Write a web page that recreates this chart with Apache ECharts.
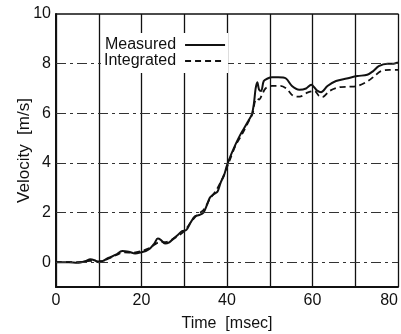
<!DOCTYPE html>
<html>
<head>
<meta charset="utf-8">
<script src="https://cdn.jsdelivr.net/npm/echarts@6/dist/echarts.min.js"></script>
<style>
  html, body { margin: 0; padding: 0; background: #fff; }
  #chart { width: 401px; height: 334px; }
</style>
</head>
<body>
<div id="chart"></div>
<script>
// Velocity traces: measured vs. integrated
const measuredT = [0, 3, 5, 7, 8, 9, 10, 11, 12, 13, 14, 15.5, 17, 18.5, 20, 21, 22, 23, 23.8, 24.5,
  25.5, 26.5, 27.5, 28.5, 29.5, 30.5, 31.5, 32.5, 33.5, 34.5, 35.3, 36, 37, 37.8, 38.5, 39.3, 40, 41,
  42, 43, 44, 45, 45.8, 46.3, 46.7, 47.1, 47.5, 48, 48.6, 49.5, 50.5, 52, 53.8, 55.2, 56.9, 58.5,
  59.7, 61, 62, 63.5, 65.5, 68, 70.5, 72.8, 74.2, 75.5, 77.5, 79, 80];
const measuredV = [0, 0, -0.02, 0.05, 0.12, 0.08, 0.0, 0.05, 0.15, 0.22, 0.3, 0.45, 0.42, 0.35, 0.4,
  0.45, 0.55, 0.75, 0.95, 0.9, 0.75, 0.8, 0.95, 1.1, 1.25, 1.3, 1.6, 1.85, 1.9, 2.0, 2.3, 2.6, 2.75,
  2.85, 3.2, 3.5, 3.9, 4.35, 4.75, 5.1, 5.4, 5.7, 5.95, 6.4, 7.0, 7.25, 6.95, 6.9, 7.3, 7.4, 7.45,
  7.45, 7.4, 7.1, 6.95, 7.0, 7.15, 6.93, 6.85, 7.1, 7.3, 7.4, 7.5, 7.55, 7.7, 7.9, 8.0, 8.0, 8.05];

const integratedT = [0, 5, 8, 10, 12, 14, 16, 18, 20, 22, 24, 26, 28, 30, 31.5, 33, 34.5, 36, 37.5,
  39, 40.5, 42, 43.5, 45, 46, 46.5, 47, 47.5, 48.2, 49, 50.5, 52.5, 54, 55.5, 57, 58.8, 60.5, 61.5,
  62.3, 64, 66.3, 68.5, 70.5, 73, 74.5, 76, 78, 80];
const integratedV = [0, 0, 0.05, 0.03, 0.12, 0.28, 0.4, 0.38, 0.45, 0.58, 0.8, 0.82, 1.0, 1.25, 1.6,
  1.9, 2.1, 2.55, 2.9, 3.4, 4.05, 4.7, 5.15, 5.65, 6.0, 6.45, 6.6, 6.55, 6.75, 7.0, 7.1, 7.1, 6.98,
  6.7, 6.67, 6.83, 6.9, 6.7, 6.65, 6.9, 7.05, 7.07, 7.1, 7.3, 7.5, 7.7, 7.75, 7.75];

// Horizontal reference lines (dash-dot) and labelled ticks
const yGridValues = [0, 2, 4, 6, 8];
const yLabelValues = [0, 2, 4, 6, 8, 10];
const xLabelValues = [0, 20, 40, 60, 80];

const FONT = 'Liberation Sans, Arial, Helvetica, sans-serif';
const INK = '#111';

const zip = (t, v) => t.map((x, i) => [x, v[i]]);

const chart = echarts.init(document.getElementById('chart'), null, { renderer: 'canvas' });

chart.setOption({
  backgroundColor: '#fff',
  animation: false,
  grid: { left: 56, right: 3, top: 14, bottom: 47, outerBoundsMode: 'none' },
  legend: {
    orient: 'vertical',
    left: 101,
    top: 33,
    z: 10,
    align: 'right',
    backgroundColor: '#fff',
    padding: [4, 2, 4, 3],
    itemWidth: 40,
    itemHeight: 10,
    itemGap: 0,
    itemStyle: { opacity: 0 },
    textStyle: { fontFamily: FONT, fontSize: 16, color: INK, lineHeight: 15, padding: [0, 4, 0, 0] },
    data: ['Measured', 'Integrated']
  },
  xAxis: [
    {
      type: 'value',
      min: 0, max: 80, interval: 10,
      name: 'Time  [msec]',
      nameLocation: 'middle',
      nameGap: 29,
      nameMoveOverlap: false,
      nameTextStyle: { fontFamily: FONT, fontSize: 16, color: INK },
      axisLine: { show: true, onZero: false, lineStyle: { color: INK, width: 2 } },
      axisTick: { show: false },
      axisLabel: {
        fontFamily: FONT, fontSize: 16, color: INK, margin: 6,
        alignMaxLabel: 'right',
        formatter: v => (xLabelValues.includes(v) ? String(v) : '')
      },
      splitLine: { show: true, lineStyle: { color: INK, width: 1.3, type: 'solid' } }
    },
    {
      type: 'value',
      position: 'top',
      min: 0, max: 80, interval: 10,
      axisLine: { show: true, onZero: false, lineStyle: { color: INK, width: 1.5 } },
      axisTick: { show: false },
      axisLabel: { show: false },
      splitLine: { show: false }
    }
  ],
  yAxis: {
    type: 'value',
    min: -1, max: 10, interval: 1,
    name: 'Velocity  [m/s]',
    nameLocation: 'middle',
    nameGap: 23,
    nameMoveOverlap: false,
    nameTextStyle: { fontFamily: FONT, fontSize: 17, color: INK },
    axisLine: { show: true, onZero: false, lineStyle: { color: INK, width: 2 } },
    axisTick: { show: false },
    axisLabel: {
      fontFamily: FONT, fontSize: 16, color: INK, margin: 5,
      formatter: v => (yLabelValues.includes(v) ? String(v) : '')
    },
    splitLine: { show: false }
  },
  series: [
    {
      name: 'Measured',
      type: 'line',
      data: zip(measuredT, measuredV),
      symbol: 'none',
      smooth: 0.3,
      lineStyle: { color: INK, width: 2 },
      itemStyle: { color: INK },
      z: 4,
      markLine: {
        silent: true,
        symbol: 'none',
        label: { show: false },
        lineStyle: { color: '#333', width: 1, type: [10, 4, 3, 4] },
        data: yGridValues.map(v => ({ yAxis: v }))
      }
    },
    {
      name: 'Integrated',
      type: 'line',
      data: zip(integratedT, integratedV),
      symbol: 'none',
      smooth: 0.3,
      lineStyle: { color: INK, width: 1.8, type: [6, 4] },
      itemStyle: { color: INK },
      z: 3
    }
  ]
});
</script>
</body>
</html>
